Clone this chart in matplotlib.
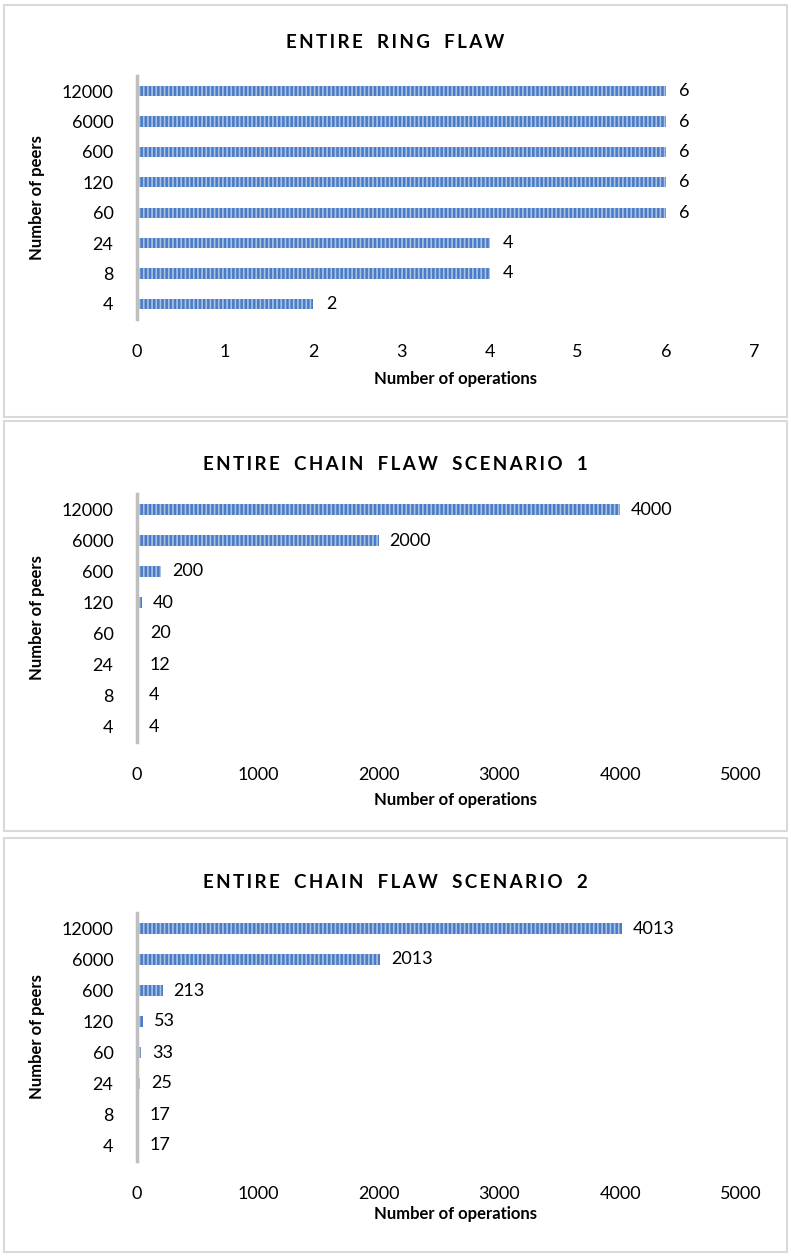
import matplotlib.pyplot as plt
from matplotlib.patches import Rectangle

plt.rcParams['font.family'] = ['Lato', 'DejaVu Sans']
plt.rcParams['hatch.linewidth'] = 1.2

peers = ['4', '8', '24', '60', '120', '600', '6000', '12000']

ring_ops = [2, 4, 4, 6, 6, 6, 6, 6]
chain1_ops = [4, 4, 12, 20, 40, 200, 2000, 4000]
chain2_ops = [17, 17, 25, 33, 53, 213, 2013, 4013]

titles = ['ENTIRE RING FLAW', 'ENTIRE CHAIN FLAW SCENARIO 1', 'ENTIRE CHAIN FLAW SCENARIO 2']
xmax = [7, 5000, 5000]
xstep = [1, 1000, 1000]
label_pad = [0.15, 90, 90]

W, H = 791, 1258
fig = plt.figure(figsize=(W / 100, H / 100), dpi=100)

# panel frames (pixels: top, bottom)
frames = [(5, 417), (421, 831), (838, 1252)]
# plot areas (pixels: top, bottom)
areas = [(76, 319), (494, 742), (913, 1161)]
title_y = [43, 465, 882]
xlabel_y = [379, 800, 1214]

def spaced(s):
    # letter-spaced heading
    return '\u2009'.join(s).replace('\u2009 \u2009', '\u2009\u2009\u2009\u2009\u2009\u2009')

for i, vals in enumerate([ring_ops, chain1_ops, chain2_ops]):
    ft, fb = frames[i]
    fig.patches.append(Rectangle((4 / W, 1 - fb / H), 783 / W, (fb - ft) / H,
                                 transform=fig.transFigure, fill=False,
                                 edgecolor='#d9d9d9', linewidth=1.5))
    at, ab = areas[i]
    left, right = 137 / W, 754 / W if i == 0 else 741 / W
    ax = fig.add_axes([left, 1 - ab / H, right - left, (ab - at) / H])
    ax.barh(peers, vals, height=0.34, color='#4a7bc4', edgecolor='#a8c2e8',
            hatch='||||', linewidth=0)
    for y, v in enumerate(vals):
        ax.text(v + label_pad[i], y, str(v), va='center', ha='left', fontsize=13)
    ax.set_xlim(0, xmax[i])
    ax.set_ylim(-0.5, len(peers) - 0.5)
    ax.set_xticks(range(0, xmax[i] + 1, xstep[i]))
    ax.tick_params(axis='both', length=0, labelsize=13)
    ax.tick_params(axis='y', pad=17)
    ax.tick_params(axis='x', pad=18)
    for s in ['top', 'right', 'bottom']:
        ax.spines[s].set_visible(False)
    ax.spines['left'].set_color('#bfbfbf')
    ax.spines['left'].set_linewidth(2.5)
    ax.set_ylabel('Number of peers', fontsize=12, fontweight='bold')
    ax.yaxis.set_label_coords((45 - 137) / (right * W - 137), 0.5)
    fig.text(395 / W, 1 - title_y[i] / H, spaced(titles[i]), ha='center', va='center',
             fontsize=13.5, fontweight='bold')
    fig.text(455 / W, 1 - xlabel_y[i] / H, 'Number of operations', ha='center',
             va='center', fontsize=12, fontweight='bold')

fig.savefig('out.png', dpi=100, facecolor='white')
